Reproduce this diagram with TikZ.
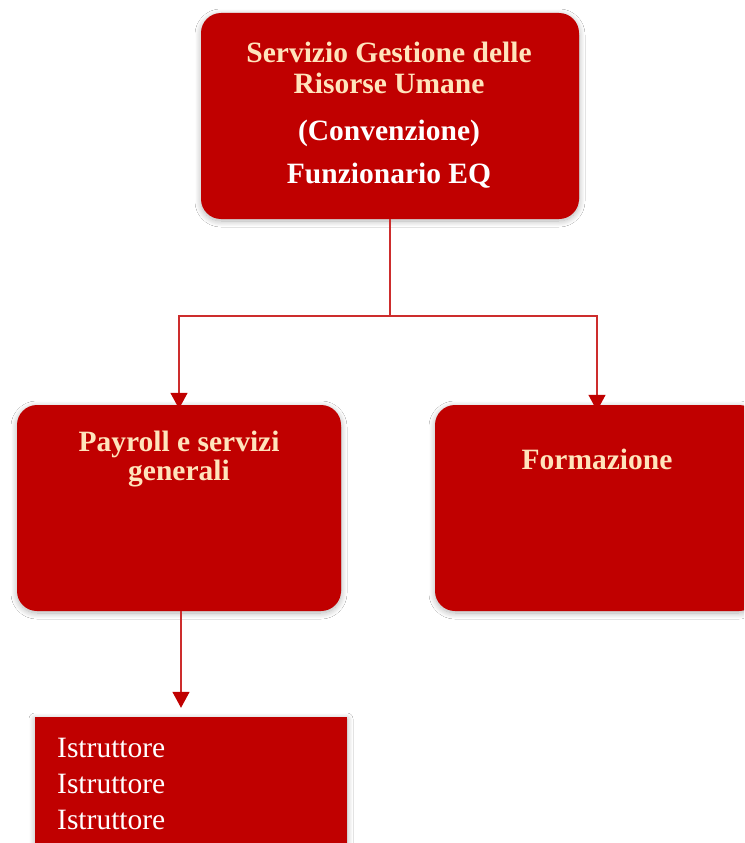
\documentclass[tikz,border=0pt]{standalone}
\usepackage{fontspec}
\setmainfont{Liberation Serif}
\usetikzlibrary{arrows.meta,shadows.blur}

\definecolor{boxred}{RGB}{192,0,0}
\definecolor{linkred}{RGB}{205,45,45}
\definecolor{cream}{RGB}{255,228,188}

\tikzset{
  x=1pt, y=1pt,
  unit/.style={fill=boxred, draw=none, inner sep=0pt,
    blur shadow={shadow xshift=0pt, shadow yshift=-2pt,
      shadow blur radius=6pt, shadow blur steps=16, shadow opacity=30}},
  roundunit/.style={unit, rounded corners=20pt},
  head/.style={font=\fontsize{29.5}{30}\selectfont\bfseries, text=cream, anchor=base, inner sep=0pt},
  headwhite/.style={head, text=white},
  staffline/.style={font=\fontsize{29.5}{30}\selectfont, text=white, anchor=base west, inner sep=0pt},
  link/.style={draw=linkred, line width=1.4pt},
  tip/.style={-{Triangle[width=17pt,length=16pt,color=boxred]}}
}

\begin{document}
\begin{tikzpicture}
  \clip (0,0) rectangle (744,-843);
  \fill[white] (0,0) rectangle (744,-843);

  % units
  \node[roundunit, minimum width=378pt, minimum height=206pt] (service) at (390,-116) {};
  \node[roundunit, minimum width=324pt, minimum height=206pt] (payroll) at (179,-508) {};
  \node[roundunit, minimum width=324pt, minimum height=206pt] (training) at (597,-508) {};
  \node[unit, minimum width=312pt, minimum height=180pt] (staff) at (191,-807) {};

  % connectors
  \coordinate (split) at (390,-316);
  \draw[link] (service.south) -- (split);
  \draw[link, tip] (split) -| ([yshift=-4pt]payroll.north);
  \draw[link, tip] (split) -| ([yshift=-6pt]training.north);
  \draw[link, tip, shorten >=9pt] ([xshift=2pt]payroll.south) -- ([xshift=2pt]payroll.south |- staff.north);

  % labels
  \node[head] (s1) at (389,-63) {Servizio Gestione delle};
  \node[head] (s2) at (389,-93) {Risorse Umane};
  \node[headwhite] (s3) at (389,-140) {(Convenzione)};
  \node[headwhite] (s4) at (389,-183) {Funzionario EQ};

  \node[head] (p1) at (179,-451) {Payroll e servizi};
  \node[head] (p2) at (179,-480) {generali};

  \node[head] (f1) at (597,-469) {Formazione};

  \node[staffline] (i1) at (57,-757) {Istruttore};
  \node[staffline] (i2) at (57,-793) {Istruttore};
  \node[staffline] (i3) at (57,-829) {Istruttore};
\end{tikzpicture}
\end{document}
